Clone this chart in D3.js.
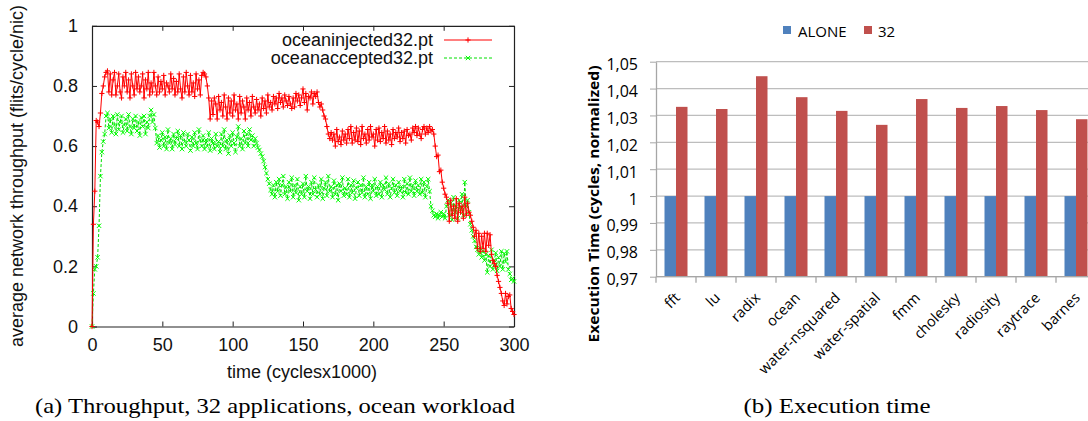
<!DOCTYPE html>
<html><head><meta charset="utf-8">
<script src="https://cdn.jsdelivr.net/npm/d3@7"></script>
<style>body{margin:0;background:#fff} svg{display:block}</style>
</head><body>
<svg id="c" width="1088" height="421"></svg>
<script>
// ---------- data: panel (a) ----------
const injected = [0,0.34,0.45,0.685,0.68,0.665,0.71,0.775,0.80,0.83,
0.845,0.85,0.78,0.84,0.77,0.82,0.845,0.77,0.80,0.84,
0.78,0.76,0.83,0.80,0.845,0.78,0.82,0.76,0.84,0.80,
0.77,0.845,0.79,0.83,0.78,0.80,0.84,0.76,0.82,0.79,
0.845,0.77,0.81,0.78,0.845,0.80,0.77,0.83,0.78,0.815,
0.79,0.835,0.77,0.81,0.80,0.78,0.84,0.79,0.825,0.77,
0.815,0.78,0.84,0.79,0.76,0.83,0.78,0.845,0.80,0.77,
0.835,0.78,0.81,0.765,0.84,0.79,0.82,0.77,0.835,0.845,
0.84,0.83,0.80,0.76,0.69,0.75,0.705,0.76,0.74,0.69,
0.765,0.72,0.745,0.70,0.77,0.73,0.69,0.76,0.71,0.75,
0.70,0.77,0.72,0.74,0.69,0.765,0.71,0.75,0.73,0.69,
0.76,0.72,0.745,0.70,0.765,0.73,0.71,0.755,0.72,0.74,
0.70,0.76,0.725,0.75,0.71,0.77,0.73,0.745,0.72,0.765,
0.74,0.76,0.725,0.775,0.745,0.76,0.73,0.77,0.75,0.735,
0.765,0.74,0.725,0.76,0.73,0.775,0.75,0.77,0.735,0.76,
0.79,0.745,0.775,0.72,0.765,0.76,0.78,0.74,0.775,0.765,
0.78,0.745,0.73,0.74,0.72,0.70,0.69,0.665,0.64,0.625,
0.645,0.62,0.64,0.60,0.655,0.615,0.63,0.605,0.65,0.62,
0.64,0.61,0.655,0.625,0.665,0.61,0.645,0.62,0.66,0.615,
0.65,0.605,0.665,0.625,0.64,0.61,0.655,0.62,0.665,0.63,
0.64,0.60,0.655,0.62,0.66,0.615,0.645,0.625,0.665,0.61,
0.65,0.62,0.64,0.605,0.655,0.625,0.645,0.63,0.66,0.615,
0.645,0.625,0.65,0.61,0.655,0.635,0.64,0.62,0.66,0.645,
0.665,0.635,0.66,0.64,0.625,0.655,0.665,0.64,0.66,0.645,
0.665,0.65,0.655,0.64,0.60,0.565,0.57,0.515,0.52,0.48,
0.46,0.44,0.43,0.41,0.35,0.42,0.37,0.40,0.36,0.425,
0.35,0.41,0.38,0.40,0.36,0.43,0.37,0.41,0.38,0.37,
0.35,0.33,0.30,0.32,0.26,0.31,0.25,0.30,0.26,0.31,
0.25,0.31,0.27,0.305,0.24,0.22,0.21,0.20,0.17,0.15,
0.13,0.11,0.085,0.07,0.11,0.075,0.10,0.105,0.06,0.05,
0.04];
const accepted = [0,0.11,0.19,0.2,0.23,0.335,0.50,0.58,0.615,0.64,
0.70,0.71,0.66,0.69,0.645,0.70,0.67,0.64,0.705,0.655,
0.68,0.70,0.645,0.67,0.69,0.65,0.705,0.665,0.64,0.69,
0.66,0.70,0.65,0.68,0.635,0.695,0.665,0.70,0.64,0.68,
0.66,0.70,0.72,0.68,0.705,0.66,0.61,0.635,0.595,0.62,
0.645,0.60,0.63,0.59,0.655,0.61,0.625,0.59,0.64,0.605,
0.625,0.65,0.60,0.635,0.59,0.645,0.615,0.60,0.64,0.62,
0.585,0.63,0.60,0.645,0.61,0.59,0.655,0.62,0.60,0.635,
0.59,0.62,0.60,0.645,0.585,0.625,0.61,0.59,0.64,0.60,
0.615,0.58,0.64,0.60,0.655,0.59,0.62,0.575,0.635,0.60,
0.645,0.61,0.58,0.63,0.665,0.60,0.625,0.59,0.65,0.61,
0.64,0.60,0.655,0.62,0.635,0.60,0.625,0.61,0.595,0.587,
0.575,0.565,0.55,0.53,0.51,0.49,0.475,0.454,0.44,0.47,
0.43,0.48,0.45,0.49,0.435,0.47,0.50,0.44,0.465,0.425,
0.48,0.45,0.495,0.43,0.47,0.445,0.49,0.42,0.465,0.44,
0.475,0.43,0.50,0.45,0.465,0.425,0.48,0.44,0.495,0.455,
0.43,0.47,0.44,0.49,0.425,0.46,0.48,0.435,0.50,0.45,
0.465,0.43,0.485,0.44,0.47,0.42,0.475,0.45,0.495,0.435,
0.46,0.44,0.49,0.43,0.47,0.445,0.485,0.425,0.46,0.48,
0.435,0.47,0.445,0.495,0.43,0.465,0.44,0.48,0.425,0.47,
0.45,0.49,0.435,0.465,0.44,0.48,0.43,0.47,0.455,0.495,
0.44,0.475,0.43,0.46,0.49,0.445,0.47,0.435,0.48,0.45,
0.465,0.43,0.49,0.445,0.475,0.44,0.495,0.45,0.47,0.435,
0.485,0.45,0.47,0.44,0.49,0.445,0.48,0.43,0.465,0.49,
0.45,0.40,0.385,0.37,0.365,0.375,0.36,0.37,0.38,0.365,
0.375,0.36,0.40,0.42,0.37,0.41,0.355,0.43,0.38,0.40,
0.36,0.42,0.39,0.44,0.37,0.48,0.40,0.42,0.38,0.34,
0.32,0.30,0.285,0.265,0.255,0.24,0.26,0.23,0.25,0.22,
0.24,0.18,0.235,0.20,0.255,0.19,0.22,0.245,0.185,0.23,
0.20,0.25,0.19,0.243,0.215,0.25,0.19,0.175,0.155,0.16,
0.15];
const seriesNamesA = ["oceaninjected32.pt", "oceanaccepted32.pt"];
const xTicksA = [0, 50, 100, 150, 200, 250, 300];
const yTicksA = [0, 0.2, 0.4, 0.6, 0.8, 1];

// ---------- data: panel (b) ----------
const apps = ["fft","lu","radix","ocean","water-nsquared","water-spatial","fmm","cholesky","radiosity","raytrace","barnes"];
const alone = [1,1,1,1,1,1,1,1,1,1,1];
const run32 = [1.0332,1.0324,1.0446,1.0368,1.0317,1.0265,1.0361,1.0328,1.0335,1.0320,1.0286];
const seriesNamesB = ["ALONE", "32"];
const yTicksB = [0.97,0.98,0.99,1,1.01,1.02,1.03,1.04,1.05];
const yLabelsB = ["0,97","0,98","0,99","1","1,01","1,02","1,03","1,04","1,05"];

const svg = d3.select("#c");

// ================= panel (a) =================
const xA = d3.scaleLinear().domain([0, 300]).range([92, 514]);
const yA = d3.scaleLinear().domain([0, 1]).range([326.5, 25.8]);
const fontA = "'Liberation Sans', Arial, sans-serif";
const fsA = 18;
const gA = svg.append("g");

function styleAxis(g, fs, ff, col) {
  g.attr("font-family", ff).attr("font-size", fs);
  g.selectAll("text").attr("fill", "#111");
  g.selectAll("line").attr("stroke", col);
  g.select(".domain").attr("stroke", col).attr("stroke-width", 1.2);
}
gA.append("g").attr("transform", `translate(0,${yA(0)})`)
  .call(d3.axisBottom(xA).tickValues(xTicksA).tickSize(-5).tickSizeOuter(0).tickPadding(12).tickFormat(d3.format("d")))
  .call(g => styleAxis(g, fsA, fontA, "#222"));
gA.append("g").attr("transform", `translate(0,${yA(1)})`)
  .call(d3.axisTop(xA).tickValues(xTicksA).tickSize(-5).tickSizeOuter(0).tickFormat(""))
  .call(g => styleAxis(g, fsA, fontA, "#222"));
gA.append("g").attr("transform", `translate(${xA(0)},0)`)
  .call(d3.axisLeft(yA).tickValues(yTicksA).tickSize(-5).tickSizeOuter(0).tickPadding(14).tickFormat(d => d3.format("")(d)))
  .call(g => styleAxis(g, fsA, fontA, "#222"));
gA.append("g").attr("transform", `translate(${xA(300)},0)`)
  .call(d3.axisRight(yA).tickValues(yTicksA).tickSize(-5).tickSizeOuter(0).tickFormat(""))
  .call(g => styleAxis(g, fsA, fontA, "#222"));

const lineA = d3.line().x((d, i) => xA(i)).y(d => yA(d));
const plus = "M-2.6,0H2.6M0,-2.6V2.6";
const cross = "M-2.2,-2.2L2.2,2.2M-2.2,2.2L2.2,-2.2";

gA.append("path").datum(accepted).attr("d", lineA)
  .attr("fill", "none").attr("stroke", "#00e000").attr("stroke-width", 1).attr("stroke-dasharray", "3,2");
gA.append("g").selectAll("path").data(accepted).join("path")
  .attr("transform", (d, i) => `translate(${xA(i)},${yA(d)})`).attr("d", cross)
  .attr("stroke", "#00ff00").attr("stroke-width", 1).attr("fill", "none");
gA.append("path").datum(injected).attr("d", lineA)
  .attr("fill", "none").attr("stroke", "#ff0000").attr("stroke-width", 1);
gA.append("g").selectAll("path").data(injected).join("path")
  .attr("transform", (d, i) => `translate(${xA(i)},${yA(d)})`).attr("d", plus)
  .attr("stroke", "#ff0000").attr("stroke-width", 1).attr("fill", "none");

// legend (a)
const legA = gA.append("g").attr("font-family", fontA).attr("font-size", fsA);
[[seriesNamesA[0], 40, "#ff0000", null, plus], [seriesNamesA[1], 58, "#00e000", "3,2", cross]].forEach(([name, y, col, dash, mk]) => {
  legA.append("text").attr("x", 433).attr("y", y).attr("dy", "0.35em").attr("text-anchor", "end").attr("fill", "#111").text(name);
  legA.append("line").attr("x1", 444).attr("x2", 492).attr("y1", y).attr("y2", y)
    .attr("stroke", col).attr("stroke-width", 1).attr("stroke-dasharray", dash);
  legA.append("path").attr("transform", `translate(468,${y})`).attr("d", mk)
    .attr("stroke", col === "#00e000" ? "#00ff00" : col).attr("stroke-width", 1).attr("fill", "none");
});

gA.append("text").attr("x", 302).attr("y", 378).attr("text-anchor", "middle")
  .attr("font-family", fontA).attr("font-size", fsA).attr("fill", "#111").text("time (cyclesx1000)");
gA.append("text").attr("transform", "translate(23,176) rotate(-90)").attr("text-anchor", "middle")
  .attr("font-family", fontA).attr("font-size", fsA).attr("fill", "#111").text("average network throughput (flits/cycle/nic)");

// ================= panel (b) =================
const fontB = "'Open Sans', 'Noto Sans', sans-serif";
const gB = svg.append("g");
const xB = d3.scaleBand().domain(apps).range([656, 1096]).paddingInner(0.425).paddingOuter(0.2125);
const xSub = d3.scaleBand().domain(seriesNamesB).range([0, xB.bandwidth()]);
const yB = d3.scaleLinear().domain([0.97, 1.05]).range([276.7, 61.7]);
const colB = d3.scaleOrdinal().domain(seriesNamesB).range(["#4F81BD", "#C0504D"]);

// gridlines
gB.append("g").selectAll("line").data(yTicksB).join("line")
  .attr("x1", 656).attr("x2", 1088).attr("y1", d => yB(d)).attr("y2", d => yB(d))
  .attr("stroke", "#BDBDBD").attr("stroke-width", 1.3);

// bars
const grp = gB.append("g").selectAll("g").data(apps).join("g")
  .attr("transform", d => `translate(${xB(d)},0)`);
grp.selectAll("rect").data((d, i) => [{k: "ALONE", v: alone[i]}, {k: "32", v: run32[i]}]).join("rect")
  .attr("x", d => xSub(d.k)).attr("width", xSub.bandwidth())
  .attr("y", d => yB(d.v)).attr("height", d => yB(0.97) - yB(d.v))
  .attr("fill", d => colB(d.k));

// y axis
gB.append("g").attr("transform", "translate(656,0)")
  .call(d3.axisLeft(yB).tickValues(yTicksB).tickSize(6).tickSizeOuter(0).tickPadding(12).tickFormat((d, i) => yLabelsB[i]))
  .call(g => { styleAxis(g, 16, fontB, "#A6A6A6"); g.selectAll("text").attr("dy", "0.5em").attr("fill", "#000"); g.select(".domain").attr("stroke-width", 1.3); });

// x axis
gB.append("line").attr("x1", 656).attr("x2", 1088).attr("y1", yB(0.97)).attr("y2", yB(0.97))
  .attr("stroke", "#A6A6A6").attr("stroke-width", 1.3);
gB.append("g").selectAll("line").data(apps).join("line")
  .attr("x1", d => xB(d) - xB.step() * xB.paddingOuter()).attr("x2", d => xB(d) - xB.step() * xB.paddingOuter())
  .attr("y1", yB(0.97)).attr("y2", yB(0.97) + 6).attr("stroke", "#A6A6A6").attr("stroke-width", 1.3);
gB.append("g").attr("font-family", fontB).attr("font-size", 14.5).selectAll("text").data(apps).join("text")
  .attr("transform", d => `translate(${xB(d) + xB.bandwidth() / 2 + 5},${yB(0.97) + 22}) rotate(-45)`)
  .attr("text-anchor", "end").attr("fill", "#000").text(d => d);

// y title
gB.append("text").attr("transform", "translate(599,204) rotate(-90)").attr("text-anchor", "middle")
  .attr("font-family", fontB).attr("font-weight", "bold").attr("font-size", 15).attr("fill", "#000")
  .attr("textLength", 277).attr("lengthAdjust", "spacingAndGlyphs")
  .text("Execution Time (cycles, normalized)");

// legend (b)
const legB = gB.append("g").attr("font-family", fontB).attr("font-size", 15);
[[seriesNamesB[0], 783, 798], [seriesNamesB[1], 864, 878]].forEach(([k, sx, tx]) => {
  legB.append("rect").attr("x", sx).attr("y", 26).attr("width", 8).attr("height", 8).attr("fill", colB(k));
  legB.append("text").attr("x", tx).attr("y", 37).attr("fill", "#000").text(k);
});

// ================= captions =================
const fontCap = "'Liberation Serif', 'DejaVu Serif', serif";
svg.append("text").attr("x", 275).attr("y", 413).attr("text-anchor", "middle")
  .attr("font-family", fontCap).attr("font-size", 21).attr("fill", "#000")
  .attr("textLength", 480).attr("lengthAdjust", "spacingAndGlyphs")
  .text("(a) Throughput, 32 applications, ocean workload");
svg.append("text").attr("x", 837).attr("y", 413).attr("text-anchor", "middle")
  .attr("font-family", fontCap).attr("font-size", 21).attr("fill", "#000")
  .attr("textLength", 187).attr("lengthAdjust", "spacingAndGlyphs")
  .text("(b) Execution time");
</script>
</body></html>
